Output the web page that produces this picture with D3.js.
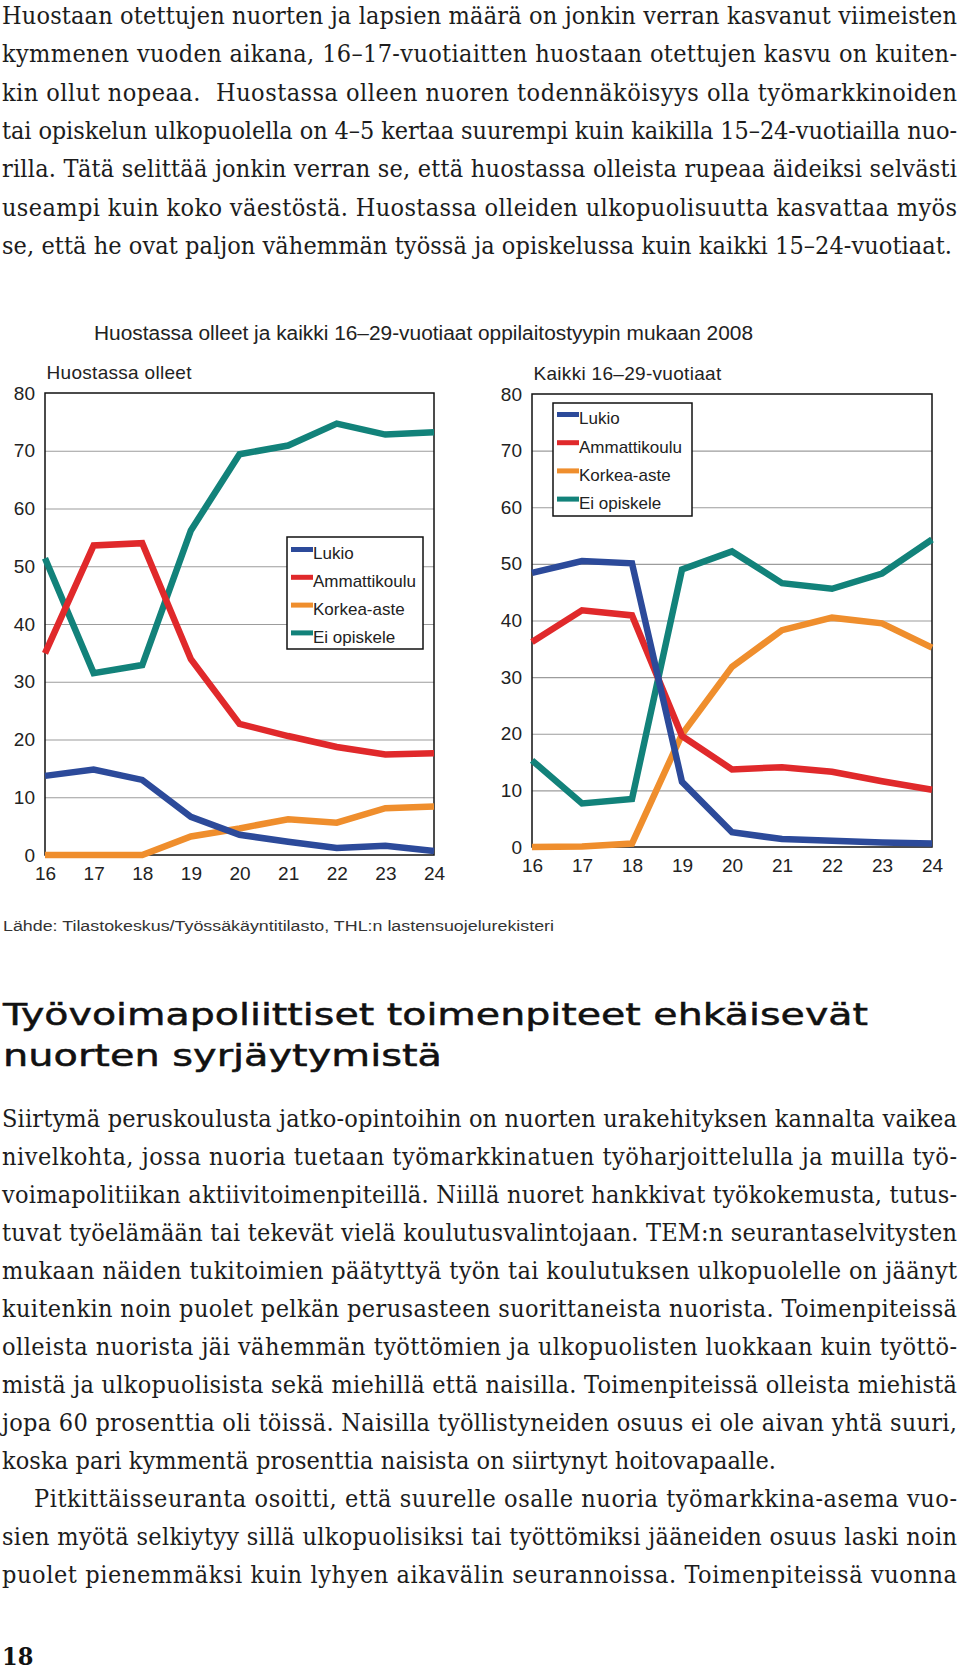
<!DOCTYPE html>
<html>
<head>
<meta charset="utf-8">
<script src="https://cdn.jsdelivr.net/npm/d3@7"></script>
<style>
  html, body { margin: 0; padding: 0; background: #fff; }
  svg { display: block; }
</style>
</head>
<body>
<script>
// ---------------- DATA ----------------
const ages = [16, 17, 18, 19, 20, 21, 22, 23, 24];
const yTicks = [0, 10, 20, 30, 40, 50, 60, 70, 80];
const seriesNames = ["Lukio", "Ammattikoulu", "Korkea-aste", "Ei opiskele"];
const seriesColors = ["#2c4a9a", "#e0292b", "#ef8e2d", "#12827a"];

// Huostassa olleet
const leftLukio   = [13.7, 14.8, 13.0, 6.6, 3.5, 2.3, 1.2, 1.6, 0.7];
const leftAmmatti = [34.9, 53.6, 54.0, 33.9, 22.7, 20.6, 18.7, 17.4, 17.6];
const leftKorkea  = [0, 0, 0, 3.2, 4.6, 6.2, 5.6, 8.1, 8.4];
const leftEi      = [51.4, 31.5, 32.9, 56.2, 69.4, 70.9, 74.7, 72.8, 73.2];

// Kaikki 16–29-vuotiaat
const rightLukio   = [48.4, 50.5, 50.1, 11.5, 2.6, 1.4, 1.1, 0.8, 0.6];
const rightAmmatti = [36.2, 41.8, 40.9, 19.6, 13.7, 14.1, 13.3, 11.6, 10.1];
const rightKorkea  = [0, 0.1, 0.6, 19.9, 31.8, 38.3, 40.5, 39.5, 35.2];
const rightEi      = [15.3, 7.7, 8.5, 49.0, 52.2, 46.6, 45.6, 48.3, 54.3];

const chartTitle = "Huostassa olleet ja kaikki 16–29-vuotiaat oppilaitostyypin mukaan 2008";
const leftTitle = "Huostassa olleet";
const rightTitle = "Kaikki 16–29-vuotiaat";
const sourceText = "Lähde: Tilastokeskus/Työssäkäyntitilasto, THL:n lastensuojelurekisteri";
const headline = ["Työvoimapoliittiset toimenpiteet ehkäisevät", "nuorten syrjäytymistä"];
const para1 = [
  "Huostaan otettujen nuorten ja lapsien määrä on jonkin verran kasvanut viimeisten",
  "kymmenen vuoden aikana, 16–17-vuotiaitten huostaan otettujen kasvu on kuiten-",
  "kin ollut nopeaa.  Huostassa olleen nuoren todennäköisyys olla työmarkkinoiden",
  "tai opiskelun ulkopuolella on 4–5 kertaa suurempi kuin kaikilla 15–24-vuotiailla nuo-",
  "rilla. Tätä selittää jonkin verran se, että huostassa olleista rupeaa äideiksi selvästi",
  "useampi kuin koko väestöstä. Huostassa olleiden ulkopuolisuutta kasvattaa myös",
  "se, että he ovat paljon vähemmän työssä ja opiskelussa kuin kaikki 15–24-vuotiaat."
];
const para2 = [
  "Siirtymä peruskoulusta jatko-opintoihin on nuorten urakehityksen kannalta vaikea",
  "nivelkohta, jossa nuoria tuetaan työmarkkinatuen työharjoittelulla ja muilla työ-",
  "voimapolitiikan aktiivitoimenpiteillä. Niillä nuoret hankkivat työkokemusta, tutus-",
  "tuvat työelämään tai tekevät vielä koulutusvalintojaan. TEM:n seurantaselvitysten",
  "mukaan näiden tukitoimien päätyttyä työn tai koulutuksen ulkopuolelle on jäänyt",
  "kuitenkin noin puolet pelkän perusasteen suorittaneista nuorista. Toimenpiteissä",
  "olleista nuorista jäi vähemmän työttömien ja ulkopuolisten luokkaan kuin työttö-",
  "mistä ja ulkopuolisista sekä miehillä että naisilla. Toimenpiteissä olleista miehistä",
  "jopa 60 prosenttia oli töissä. Naisilla työllistyneiden osuus ei ole aivan yhtä suuri,",
  "koska pari kymmentä prosenttia naisista on siirtynyt hoitovapaalle."
];
const para3 = [
  "Pitkittäisseuranta osoitti, että suurelle osalle nuoria työmarkkina-asema vuo-",
  "sien myötä selkiytyy sillä ulkopuolisiksi tai työttömiksi jääneiden osuus laski noin",
  "puolet pienemmäksi kuin lyhyen aikavälin seurannoissa. Toimenpiteissä vuonna"
];
const pageNumber = "18";

// ---------------- DRAWING ----------------
const W = 960, H = 1670;
const svg = d3.select("body").append("svg").attr("width", W).attr("height", H);
svg.append("rect").attr("width", W).attr("height", H).attr("fill", "#fff");

const serif = "'DejaVu Serif Condensed', 'DejaVu Serif', serif";
const sans = "'Liberation Sans', Arial, Helvetica, sans-serif";
const textColor = "#1c1c1c";

function bodyLines(lines, x0, firstBaseline, step, widths) {
  lines.forEach((t, i) => {
    const tx = svg.append("text")
      .attr("x", x0[i] !== undefined ? x0[i] : x0.default)
      .attr("y", firstBaseline + i * step)
      .attr("font-family", serif)
      .attr("font-stretch", "condensed")
      .attr("font-size", 25)
      .attr("fill", textColor)
      .attr("xml:space", "preserve")
      .text(t);
    const w = widths[i] !== undefined ? widths[i] : widths.default;
    tx.attr("textLength", w).attr("lengthAdjust", "spacing");
  });
}

// Paragraph 1
bodyLines(para1, {default: 2}, 24, 38.3, {default: 955, 6: 950});

// Chart title
svg.append("text").attr("x", 94).attr("y", 340)
  .attr("font-family", sans).attr("font-size", 19.5).attr("fill", "#222")
  .attr("textLength", 659).attr("lengthAdjust", "spacingAndGlyphs")
  .text(chartTitle);

function drawPanel(cfg) {
  const x = d3.scaleLinear().domain([16, 24]).range([cfg.left, cfg.right]);
  const y = d3.scaleLinear().domain([0, 80]).range([cfg.bottom, cfg.top]);
  const g = svg.append("g");

  // gridlines
  g.append("g")
    .attr("transform", `translate(${cfg.left},0)`)
    .call(d3.axisLeft(y).tickValues(yTicks.filter(v => v > 0 && v < 80))
      .tickSize(-(cfg.right - cfg.left)).tickFormat(""))
    .call(s => s.select(".domain").remove())
    .call(s => s.selectAll("line").attr("stroke", "#9c9c9c").attr("stroke-width", 1.2));

  // y tick labels
  g.append("g")
    .attr("transform", `translate(${cfg.left},0)`)
    .call(d3.axisLeft(y).tickValues(yTicks).tickSize(0).tickPadding(10))
    .call(s => s.select(".domain").remove())
    .call(s => s.selectAll("text").attr("font-family", sans).attr("font-size", 19).attr("fill", "#222"));

  // x tick labels
  g.append("g")
    .attr("transform", `translate(0,${cfg.bottom})`)
    .call(d3.axisBottom(x).tickValues(ages).tickSize(0).tickPadding(11.5).tickFormat(d3.format("d")))
    .call(s => s.select(".domain").remove())
    .call(s => s.selectAll("text").attr("font-family", sans).attr("font-size", 19).attr("fill", "#222"));

  // border
  g.append("rect")
    .attr("x", cfg.left).attr("y", cfg.top)
    .attr("width", cfg.right - cfg.left).attr("height", cfg.bottom - cfg.top)
    .attr("fill", "none").attr("stroke", "#111").attr("stroke-width", 1.5);

  // subtitle
  g.append("text").attr("x", cfg.left + 1.5).attr("y", cfg.titleY)
    .attr("font-family", sans).attr("font-size", 19).attr("fill", "#222")
    .attr("letter-spacing", 0.3)
    .text(cfg.title);

  // legend
  const lg = g.append("g");
  lg.append("rect").attr("x", cfg.legend.x0).attr("y", cfg.legend.y0)
    .attr("width", cfg.legend.x1 - cfg.legend.x0).attr("height", cfg.legend.y1 - cfg.legend.y0)
    .attr("fill", "#fff").attr("stroke", "#111").attr("stroke-width", 1.5);
  seriesNames.forEach((name, i) => {
    const cy = cfg.legend.firstRow + i * cfg.legend.step;
    lg.append("line")
      .attr("x1", cfg.legend.x0 + 4).attr("x2", cfg.legend.x0 + 26)
      .attr("y1", cy - 4).attr("y2", cy - 4)
      .attr("stroke", seriesColors[i]).attr("stroke-width", 5);
    lg.append("text")
      .attr("x", cfg.legend.x0 + 26).attr("y", cy).attr("dy", "0.35em")
      .attr("font-family", sans).attr("font-size", 17).attr("fill", "#222")
      .text(name);
  });

  // lines (Ei opiskele at bottom, Lukio on top)
  const line = d3.line().x((d, i) => x(ages[i])).y(d => y(d)).curve(d3.curveLinear);
  const order = [3, 2, 1, 0];
  const lines = g.append("g");
  order.forEach(k => {
    lines.append("path")
      .attr("d", line(cfg.series[k]))
      .attr("fill", "none")
      .attr("stroke", seriesColors[k])
      .attr("stroke-width", 6.5)
      .attr("stroke-linejoin", "miter")
      .attr("stroke-miterlimit", 4)
      .attr("stroke-linecap", "butt");
  });
  lg.raise();
}

drawPanel({
  left: 45, right: 434, top: 393, bottom: 855, titleY: 379, title: leftTitle,
  series: [leftLukio, leftAmmatti, leftKorkea, leftEi],
  legend: {x0: 287, x1: 423, y0: 537, y1: 649, firstRow: 553.5, step: 27.8}
});
drawPanel({
  left: 532, right: 932, top: 394, bottom: 847, titleY: 380, title: rightTitle,
  series: [rightLukio, rightAmmatti, rightKorkea, rightEi],
  legend: {x0: 553, x1: 692, y0: 403, y1: 516, firstRow: 418.5, step: 28.2}
});

// Source
svg.append("text").attr("x", 3).attr("y", 931)
  .attr("font-family", sans).attr("font-size", 15.5).attr("fill", "#333")
  .attr("textLength", 551).attr("lengthAdjust", "spacingAndGlyphs")
  .text(sourceText);

// Headline
const hlWidths = [865, 439];
headline.forEach((t, i) => {
  svg.append("text").attr("x", 3).attr("y", 1025 + i * 41)
    .attr("font-family", "'DejaVu Sans', sans-serif")
    .attr("font-size", 31).attr("fill", "#111")
    .attr("stroke", "#111").attr("stroke-width", 0.5)
    .attr("textLength", hlWidths[i]).attr("lengthAdjust", "spacingAndGlyphs")
    .text(t);
});

// Paragraph 2 & 3
bodyLines(para2, {default: 2}, 1127, 38.0, {default: 955, 9: 774});
bodyLines(para3, {default: 2, 0: 34}, 1127 + 10 * 38.0, 38.0, {default: 955, 0: 923});

// Page number
svg.append("text").attr("x", 2).attr("y", 1665)
  .attr("font-family", serif).attr("font-weight", "bold").attr("font-size", 25)
  .attr("fill", "#111").text(pageNumber);
</script>
</body>
</html>
